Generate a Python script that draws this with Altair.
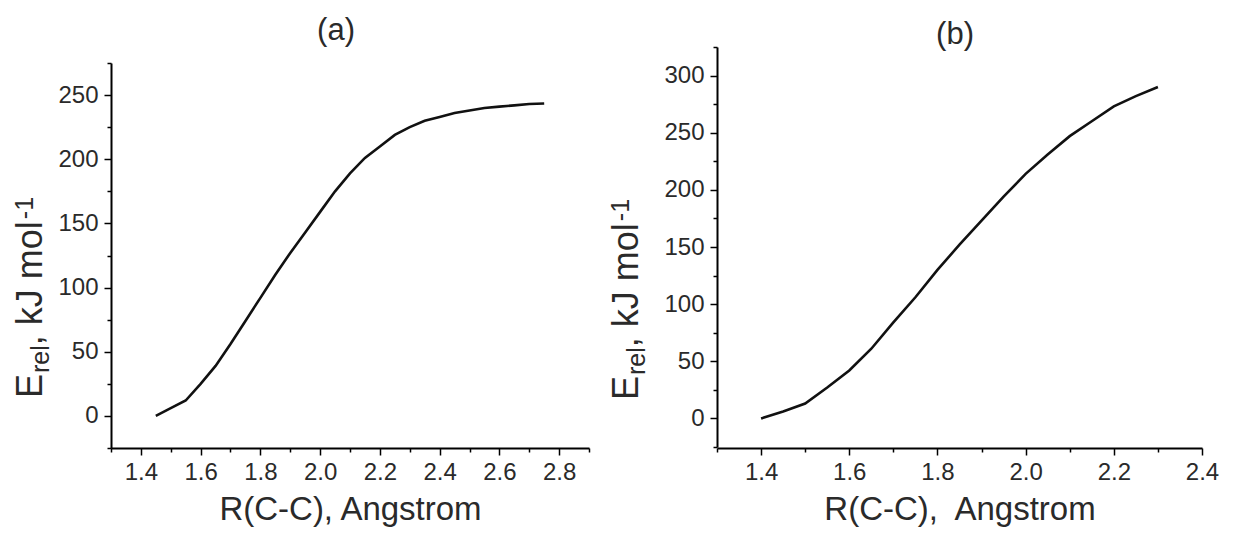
import altair as alt
import pandas as pd

# ---------------- data ----------------
# panel (a)
r_a = [1.45, 1.50, 1.55, 1.60, 1.65, 1.70, 1.75, 1.80, 1.85, 1.90, 1.95, 2.00,
       2.05, 2.10, 2.15, 2.20, 2.25, 2.30, 2.35, 2.40, 2.45, 2.50, 2.55, 2.60,
       2.65, 2.70, 2.75]
e_a = [0, 6, 12, 25, 39, 56, 74, 92, 110, 127, 143, 159,
       175, 189, 201, 210, 219, 225, 230, 233, 236, 238, 240, 241,
       242, 243, 243.5]
# panel (b)
r_b = [1.40, 1.45, 1.50, 1.55, 1.60, 1.65, 1.70, 1.75, 1.80, 1.85, 1.90, 1.95,
       2.00, 2.05, 2.10, 2.15, 2.20, 2.25, 2.30]
e_b = [0, 6, 13, 27, 42, 61, 84, 106, 130, 152, 173, 194,
       214, 231, 247, 260, 273, 282, 290]

# tick positions (major + minor)
xa_ticks = [1.3, 1.4, 1.5, 1.6, 1.7, 1.8, 1.9, 2.0, 2.1, 2.2, 2.3, 2.4, 2.5, 2.6, 2.7, 2.8, 2.9]
ya_ticks = [-25, 0, 25, 50, 75, 100, 125, 150, 175, 200, 225, 250, 275]
xb_ticks = [1.3, 1.4, 1.5, 1.6, 1.7, 1.8, 1.9, 2.0, 2.1, 2.2, 2.3, 2.4]
yb_ticks = [-25, 0, 25, 50, 75, 100, 125, 150, 175, 200, 225, 250, 275, 300, 325]

xa_domain = [1.3, 2.9]
ya_domain = [-25, 275]
xb_domain = [1.3, 2.4]
yb_domain = [-25, 325]

x_title_a = "R(C-C), Angstrom"
x_title_b = "R(C-C),\u00a0 Angstrom"
panel_titles = ["(a)", "(b)"]

# ---------------- layout ----------------
W, H = 1091, 401
XA_RANGE = [0, 478]
XB_RANGE = [606, 1091]
YA_RANGE = [401, 16]
YB_RANGE = [400, 0]

FONT = "Liberation Sans"
TXT = "#2a2a2a"

df_a = pd.DataFrame({"r": r_a, "e": e_a})
df_b = pd.DataFrame({"r": r_b, "e": e_b})

x_major = "round(datum.value*10) % 2 == 0"
y_major = "datum.value % 50 == 0"

def x_axis(values, title):
    return alt.Axis(
        values=values, orient="bottom", grid=False,
        domainColor="black", domainWidth=2,
        tickColor="black", tickWidth=1.5,
        tickSize={"condition": {"test": x_major, "value": 7}, "value": 4},
        labelExpr=f"{x_major} ? format(datum.value, '.1f') : ''",
        labelFont=FONT, labelFontSize=24, labelColor=TXT, labelPadding=5,
        labelFlush=False, labelOverlap=False,
        title=title, titleFont=FONT, titleFontSize=33, titleFontWeight="normal",
        titleColor=TXT, titlePadding=9,
    )

def y_axis(values, offset):
    return alt.Axis(
        values=values, orient="left", offset=offset, grid=False,
        domainColor="black", domainWidth=2,
        tickColor="black", tickWidth=1.5,
        tickSize={"condition": {"test": y_major, "value": 7}, "value": 4},
        labelExpr=f"{y_major} ? format(datum.value, 'd') : ''",
        labelFont=FONT, labelFontSize=24, labelColor=TXT, labelPadding=6,
        labelFlush=False, labelOverlap=False,
        title=None,
    )

line_a = alt.Chart(df_a).mark_line(color="#111111", strokeWidth=2.6).encode(
    x=alt.X("r:Q", scale=alt.Scale(domain=xa_domain, range=XA_RANGE, nice=False, zero=False),
            axis=x_axis(xa_ticks, x_title_a)),
    y=alt.Y("e:Q", scale=alt.Scale(domain=ya_domain, range=YA_RANGE, nice=False, zero=False),
            axis=y_axis(ya_ticks, 0)),
)

line_b = alt.Chart(df_b).mark_line(color="#111111", strokeWidth=2.6).encode(
    x=alt.X("r:Q", scale=alt.Scale(domain=xb_domain, range=XB_RANGE, nice=False, zero=False),
            axis=x_axis(xb_ticks, x_title_b)),
    y=alt.Y("e:Q", scale=alt.Scale(domain=yb_domain, range=YB_RANGE, nice=False, zero=False),
            axis=y_axis(yb_ticks, -XB_RANGE[0])),
)


def text(s, x, y, size, angle=0, align="left"):
    return alt.Chart(pd.DataFrame({"t": [s]})).mark_text(
        font=FONT, fontSize=size, color=TXT, angle=angle, align=align,
        baseline="alphabetic",
    ).encode(text="t:N", x=alt.value(x), y=alt.value(y))


def ytitle(xb, y0, F=36, s=25):
    # rotated composite title  E_rel, kJ mol^-1
    w_E = 0.667 * F
    w_rel = 1.111 * s
    w_mid = 3.445 * F
    parts = [
        text("E", xb, y0, F, 270),
        text("rel", xb + 0.2 * F, y0 - w_E - 1, s, 270),
        text(", kJ mol", xb, y0 - w_E - w_rel - 1, F, 270),
        text("-1", xb - 0.24 * F, y0 - w_E - w_rel - w_mid - 3, s, 270),
    ]
    return parts


layers = [line_a, line_b]
layers += ytitle(-69, 351)
layers += ytitle(527, 353)
layers += [text(panel_titles[0], 225, -7, 31, 0, "center"),
           text(panel_titles[1], 844, -3, 31, 0, "center")]

chart = alt.layer(*layers).resolve_scale(
    x="independent", y="independent"
).resolve_axis(x="independent", y="independent").properties(
    width=W, height=H,
    autosize=alt.AutoSizeParams(type="none"),
    padding={"left": 103, "top": 39, "right": 20, "bottom": 80},
).configure_view(strokeWidth=0)

chart.save("out.html", embed_options={"renderer": "svg", "actions": False})
